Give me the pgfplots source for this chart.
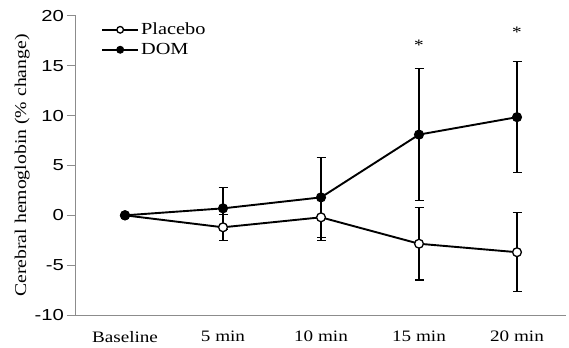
\documentclass[border=0pt]{standalone}
\usepackage{pgfplots}
\pgfplotsset{compat=1.18}
\usepackage{fontspec}
\setmainfont{Liberation Serif}[FakeStretch=1.2]
\newfontfamily\numfont{Liberation Sans}[FakeStretch=1.27]
\definecolor{axgray}{RGB}{140,140,140}
\begin{document}
\begin{tikzpicture}
\begin{axis}[
  scale only axis,
  width=490bp, height=299bp,
  xmin=-0.5, xmax=4.5, ymin=-10, ymax=20,
  axis lines=left,
  axis line style={-, axgray, line width=1bp},
  xtick={0,1,2,3,4},
  xticklabels={Baseline,5 min,10 min,15 min,20 min},
  minor xtick={-0.5,0.5,1.5,2.5,3.5,4.5},
  ytick={-10,-5,0,5,10,15,20},
  tick align=center,
  major tick length=9bp,
  minor tick length=11bp,
  xtick style={draw=none},
  minor tick style={axgray, line width=1bp},
  ytick style={axgray, line width=1bp, xshift=-4.5bp},
  /pgf/number format/assume math mode=true,
  yticklabel style={font=\numfont\fontsize{16}{19}\selectfont, xshift=-4bp},
  xticklabel style={font=\fontsize{16}{19}\selectfont, yshift=-8bp},
  ylabel={Cerebral hemoglobin (\% change)},
  ylabel style={at={(axis description cs:-0.110,0.5)}, rotate=0, anchor=center, font=\fontsize{16.5}{19}\selectfont},
  legend style={draw=none, fill=none, at={(axis description cs:0.045,0.99)}, anchor=north west, font=\fontsize{17}{20}\selectfont, row sep=3bp},
  legend cell align=left,
  legend image code/.code={\draw[mark repeat=2,mark phase=2,mark size=3.3bp] plot coordinates {(0bp,0bp)(18bp,0bp)(36bp,0bp)};},
  clip=false,
]
\coordinate (O) at (rel axis cs:0,0);
\addplot[black, line width=1.9bp, mark=*, mark size=4.4bp, mark options={solid, fill=white, line width=1.3bp},
  error bars/.cd, y dir=both, y explicit,
  error bar style={line width=1.3bp, black},
  error mark options={rotate=90, mark size=4.5bp, line width=1.3bp, black}]
  coordinates {
  (0,0) +- (0,0)
  (1,-1.2) +- (0,1.3)
  (2,-0.2) +- (0,2.3)
  (3,-2.85) +- (0,3.65)
  (4,-3.7) +- (0,3.95)
  };
\addlegendentry{Placebo}
\addplot[black, line width=1.9bp, mark=*, mark size=4.4bp, mark options={solid, fill=black, line width=1.3bp},
  error bars/.cd, y dir=both, y explicit,
  error bar style={line width=1.3bp, black},
  error mark options={rotate=90, mark size=4.5bp, line width=1.3bp, black}]
  coordinates {
  (0,0) +- (0,0)
  (1,0.7) +- (0,2.1)
  (2,1.8) +- (0,4.0)
  (3,8.1) +- (0,6.6)
  (4,9.85) +- (0,5.55)
  };
\addlegendentry{DOM}
\node[font=\fontsize{16}{18}\selectfont, inner sep=0pt, yshift=-2bp] at (axis cs:3,17.25) {*};
\node[font=\fontsize{16}{18}\selectfont, inner sep=0pt, yshift=-2bp] at (axis cs:4,18.55) {*};
\end{axis}
\path ([shift={(-76bp,-33bp)}]O) rectangle ([shift={(493bp,315bp)}]O);
\end{tikzpicture}
\end{document}
